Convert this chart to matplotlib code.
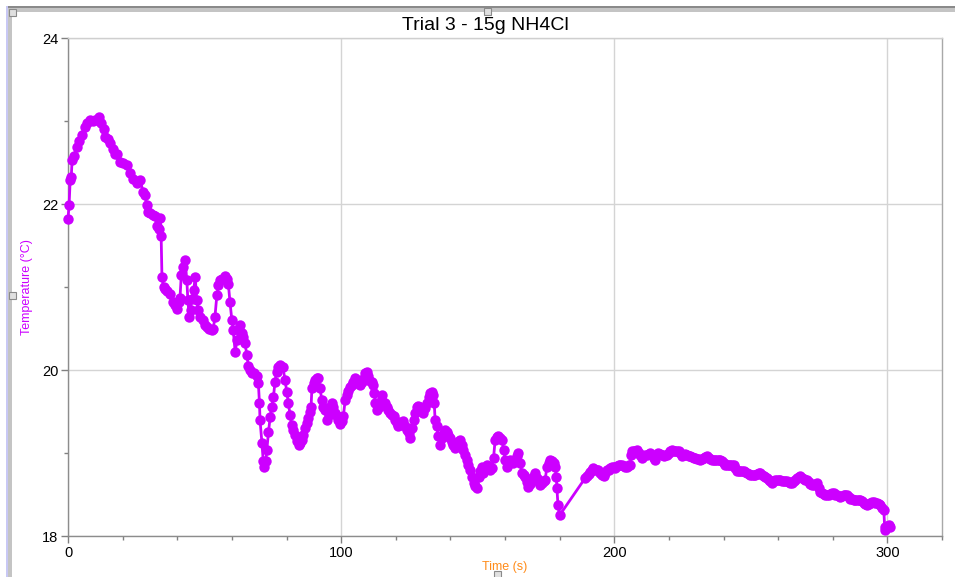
import matplotlib
matplotlib.use('Agg')
import matplotlib.pyplot as plt
from matplotlib.patches import Rectangle
from matplotlib.ticker import MultipleLocator

# Readings: time (s) and temperature (deg C)
time_s = [
    0.0, 0.4, 0.8, 1.2, 1.5, 2.2, 3.2, 4.1, 5.0, 6.2, 7.0, 8.0, 9.0, 10.0, 11.0, 11.5,
    12.2, 13.0, 13.6, 14.5, 15.4, 16.3, 17.2, 18.1, 19.0, 20.2, 21.5, 22.7, 23.9, 25.2,
    26.4, 27.5, 28.2, 28.8, 29.3, 30.0, 31.0, 31.9, 32.5, 33.2, 33.7, 34.1, 34.4, 35.0,
    35.5, 36.4, 37.4, 38.5, 39.2, 39.8, 40.5, 41.0, 41.5, 42.2, 42.9, 43.5, 43.9, 44.4,
    44.9, 45.3, 46.0, 46.6, 47.1, 47.7, 48.4, 49.3, 50.2, 50.8, 51.6, 52.6, 53.2, 53.8,
    54.5, 55.1, 55.7, 56.5, 57.5, 58.3, 58.7, 59.3, 60.0, 60.5, 61.2, 61.9, 62.5, 63.0,
    63.6, 64.2, 64.8, 65.5, 66.0, 66.7, 67.3, 68.2, 69.1, 69.7, 70.1, 70.3, 71.0, 71.5,
    71.9, 72.4, 72.8, 73.4, 74.0, 74.6, 75.2, 75.8, 76.4, 77.0, 77.7, 78.6, 79.5, 80.1,
    80.7, 81.3, 81.9, 82.5, 83.2, 83.8, 84.4, 85.0, 85.6, 86.2, 86.8, 87.4, 88.0, 88.6,
    89.0, 89.3, 89.9, 90.5, 91.1, 91.7, 92.3, 92.9, 93.5, 94.1, 94.8, 95.4, 96.0, 96.6,
    97.2, 97.8, 98.4, 99.0, 99.6, 100.2, 100.8, 101.5, 102.1, 102.7, 103.3, 103.9, 104.5,
    105.1, 105.7, 106.3, 107.0, 107.6, 108.2, 108.8, 109.4, 110.0, 110.6, 111.2, 111.8,
    112.2, 112.5, 113.0, 113.7, 114.3, 114.9, 115.5, 116.1, 116.7, 117.3, 117.9, 118.5,
    119.2, 119.8, 120.4, 121.0, 121.6, 122.2, 122.8, 123.4, 124.0, 124.7, 125.3, 125.9,
    126.5, 127.1, 127.7, 128.3, 128.9, 129.5, 130.1, 130.8, 131.4, 132.0, 132.6, 133.2,
    133.8, 134.1, 134.4, 135.0, 135.6, 136.3, 136.9, 137.5, 138.1, 138.7, 139.3, 139.9,
    140.5, 141.1, 141.8, 142.4, 143.0, 143.6, 144.2, 144.8, 145.4, 146.0, 146.6, 147.3,
    147.9, 148.5, 149.1, 149.7, 150.3, 150.9, 151.5, 152.1, 152.7, 153.4, 154.0, 154.6,
    155.2, 155.8, 156.4, 157.0, 157.6, 158.2, 158.9, 159.5, 160.1, 160.7, 161.3, 161.9,
    162.5, 163.1, 163.7, 164.3, 164.9, 165.6, 166.2, 166.8, 167.4, 168.0, 168.6, 169.2,
    169.9, 170.5, 171.1, 171.7, 172.3, 172.9, 173.5, 174.1, 174.7, 175.3, 176.0, 176.6,
    177.2, 177.8, 178.4, 178.8, 179.0, 179.4, 180.0,
    189.4, 190.0, 190.6, 191.2, 191.8, 192.4, 193.0, 193.6, 194.2, 194.9, 195.5, 196.1,
    196.7, 197.3, 197.9, 198.5, 199.2, 199.8, 200.4, 201.0, 201.6, 202.2, 202.8, 203.4,
    204.0, 204.6, 205.3, 205.9, 206.3, 206.6, 207.1, 207.7, 208.3, 208.9, 209.5, 210.1,
    210.7, 211.3, 212.0, 212.6, 213.2, 213.8, 214.4, 215.0, 215.6, 216.2, 216.8, 217.4,
    218.1, 218.7, 219.3, 219.9, 220.5, 221.1, 221.7, 222.3, 223.0, 223.6, 224.2, 224.8,
    225.4, 226.0, 226.6, 227.2, 227.8, 228.4, 229.1, 229.7, 230.3, 230.9, 231.5, 232.1,
    232.7, 233.3, 233.9, 234.6, 235.2, 235.8, 236.4, 237.0, 237.6, 238.2, 238.8, 239.5,
    240.1, 240.7, 241.3, 241.9, 242.5, 243.1, 243.7, 244.3, 244.9, 245.6, 246.2, 246.8,
    247.4, 248.0, 248.6, 249.2, 249.8, 250.4, 251.0, 251.7, 252.3, 252.9, 253.5, 254.1,
    254.7, 255.3, 255.9, 256.5, 257.2, 257.8, 258.4, 259.0, 259.6, 260.2, 260.8, 261.4,
    262.0, 262.7, 263.3, 263.9, 264.5, 265.1, 265.7, 266.3, 266.9, 267.5, 268.1, 268.8,
    269.4, 270.0, 270.6, 271.2, 271.8, 272.4, 273.0, 273.6, 274.2, 274.9, 275.5, 276.1,
    276.7, 277.3, 277.9, 278.5, 279.1, 279.7, 280.3, 281.0, 281.6, 282.2, 282.8, 283.4,
    284.0, 284.6, 285.2, 285.8, 286.4, 287.1, 287.7, 288.3, 288.9, 289.5, 290.1, 290.7,
    291.3, 291.9, 292.6, 293.2, 293.8, 294.4, 295.0, 295.6, 296.2, 296.8, 297.4, 298.1,
    298.7, 299.0, 299.3, 299.9, 300.5, 301.1,
]
temp_c = [
    21.82, 21.99, 22.29, 22.33, 22.53, 22.58, 22.69, 22.76, 22.83, 22.93, 22.97, 23.01,
    23.00, 23.01, 23.03, 23.05, 22.98, 22.90, 22.81, 22.78, 22.73, 22.66, 22.60, 22.60,
    22.51, 22.50, 22.47, 22.37, 22.30, 22.25, 22.29, 22.15, 22.11, 21.99, 21.90, 21.89,
    21.87, 21.85, 21.73, 21.70, 21.83, 21.62, 21.12, 21.00,
    20.97, 20.95, 20.92, 20.82, 20.78, 20.74, 20.82, 20.87, 21.15, 21.24, 21.32, 21.08,
    20.84, 20.64, 20.72, 20.86, 20.96, 21.12, 20.84, 20.72, 20.64, 20.60, 20.54, 20.52,
    20.50, 20.48, 20.50, 20.64, 20.90, 21.02, 21.08, 21.10, 21.13, 21.10, 21.04, 20.82,
    20.60, 20.48, 20.22, 20.36, 20.48, 20.54, 20.44, 20.40, 20.32, 20.18, 20.05, 20.00,
    19.96, 19.96, 19.93, 19.84, 19.60, 19.40, 19.12, 18.90, 18.83, 18.90, 19.04, 19.25,
    19.43, 19.55, 19.67, 19.86, 19.98, 20.04, 20.06, 20.04, 19.88, 19.73, 19.60, 19.46,
    19.34, 19.28, 19.22, 19.14, 19.10, 19.12, 19.16, 19.22, 19.30, 19.36, 19.42, 19.50,
    19.56, 19.78, 19.84, 19.88, 19.90, 19.90, 19.78, 19.64, 19.56, 19.52, 19.40, 19.46,
    19.55, 19.60, 19.55, 19.48, 19.44, 19.40, 19.35, 19.38, 19.44, 19.64, 19.70, 19.75,
    19.80, 19.82, 19.85, 19.90, 19.88, 19.84, 19.82, 19.85, 19.90, 19.96, 19.98, 19.93,
    19.87, 19.85, 19.82, 19.72, 19.60, 19.52, 19.55, 19.62, 19.70, 19.62, 19.60, 19.55,
    19.52, 19.48, 19.46, 19.44, 19.40, 19.36, 19.32, 19.34, 19.37, 19.38, 19.33, 19.28,
    19.24, 19.18, 19.30, 19.40, 19.48, 19.56, 19.57, 19.56, 19.52, 19.48, 19.54, 19.60,
    19.68, 19.72, 19.73, 19.70, 19.60, 19.40, 19.32, 19.20, 19.10, 19.18, 19.24, 19.28,
    19.25, 19.22, 19.18, 19.13, 19.10, 19.06, 19.10, 19.14, 19.16, 19.10, 19.04, 18.98,
    18.92, 18.86, 18.80, 18.71, 18.64, 18.60, 18.58, 18.71, 18.78, 18.83, 18.76, 18.80,
    18.86, 18.83, 18.80, 18.82, 18.94, 19.16, 19.19, 19.20, 19.18, 19.16, 19.04, 18.92,
    18.83, 18.88, 18.92, 18.90, 18.88, 18.92, 18.96, 19.00, 18.88, 18.76, 18.74, 18.71,
    18.65, 18.59, 18.63, 18.67, 18.72, 18.76, 18.70, 18.65, 18.61, 18.64, 18.66, 18.67,
    18.83, 18.88, 18.92, 18.90, 18.88, 18.83, 18.71, 18.58, 18.37, 18.25,
    18.70, 18.72, 18.75, 18.77, 18.80, 18.82, 18.80, 18.80, 18.80, 18.76, 18.74, 18.72,
    18.76, 18.79, 18.80, 18.82, 18.83, 18.83, 18.82, 18.84, 18.86, 18.86, 18.85, 18.84,
    18.83, 18.83, 18.86, 18.86, 18.98, 19.02, 19.03, 19.03, 19.04, 19.00, 18.97, 18.94,
    18.96, 18.98, 18.97, 18.99, 19.00, 18.97, 18.94, 18.92, 18.97, 19.00, 18.99, 18.98,
    18.96, 18.97, 18.97, 19.00, 19.02, 19.04, 19.03, 19.02, 19.02, 19.02, 19.00, 18.96,
    18.98, 18.99, 18.97, 18.96, 18.96, 18.95, 18.94, 18.94, 18.93, 18.93, 18.92, 18.93,
    18.94, 18.95, 18.96, 18.94, 18.93, 18.92, 18.92, 18.92, 18.92, 18.92, 18.92, 18.90,
    18.88, 18.86, 18.86, 18.86, 18.86, 18.86, 18.86, 18.82, 18.78, 18.78, 18.78, 18.78,
    18.78, 18.77, 18.76, 18.75, 18.74, 18.74, 18.73, 18.74, 18.75, 18.76, 18.76, 18.74,
    18.72, 18.71, 18.70, 18.68, 18.66, 18.64, 18.66, 18.67, 18.67, 18.67, 18.67, 18.66,
    18.66, 18.66, 18.66, 18.65, 18.64, 18.64, 18.66, 18.68, 18.70, 18.71, 18.72, 18.70,
    18.69, 18.68, 18.67, 18.65, 18.63, 18.62, 18.61, 18.63, 18.64, 18.58, 18.53, 18.52,
    18.51, 18.50, 18.49, 18.50, 18.51, 18.52, 18.52, 18.50, 18.49, 18.48, 18.47, 18.48,
    18.49, 18.49, 18.49, 18.47, 18.45, 18.44, 18.43, 18.43, 18.43, 18.43, 18.43, 18.42,
    18.40, 18.38, 18.37, 18.38, 18.40, 18.41, 18.41, 18.40, 18.40, 18.39, 18.37, 18.34,
    18.31, 18.11, 18.07, 18.12, 18.13, 18.11,
]

title = 'Trial 3 - 15g NH4Cl'
x_label = 'Time (s)'
y_label = 'Temperature (°C)'

plt.rcParams['font.family'] = ['Liberation Sans', 'DejaVu Sans']

W, H = 955, 577
fig = plt.figure(figsize=(W / 100, H / 100), dpi=100)
fig.patch.set_facecolor('white')

# axes box in pixels: left 68, right 942, top 38, bottom 536
ax = fig.add_axes([68 / W, 1 - 536 / H, (942 - 68) / W, (536 - 38) / H])

ax.plot(time_s, temp_c, color='#CC00FF', lw=2, marker='o', ms=7.5,
        markeredgewidth=0, zorder=3, clip_on=False)

ax.set_xlim(0, 320)
ax.set_ylim(18, 24)
ax.xaxis.set_major_locator(MultipleLocator(100))
ax.xaxis.set_minor_locator(MultipleLocator(20))
ax.yaxis.set_major_locator(MultipleLocator(2))
ax.yaxis.set_minor_locator(MultipleLocator(1))

ax.grid(True, which='major', color='#d4d4d4', lw=1)
ax.set_axisbelow(True)

ax.tick_params(which='both', direction='out', colors='#808080',
               labelcolor='black', labelsize=10.5, width=1)
ax.tick_params(which='major', length=5, pad=2)
ax.tick_params(which='minor', length=3)

ax.spines['left'].set_color('#8c8c8c')
ax.spines['bottom'].set_color('#8c8c8c')
ax.spines['top'].set_color('#cfcfcf')
ax.spines['right'].set_color('#a8a8a8')
for s in ax.spines.values():
    s.set_linewidth(1)

# labels and title placed like the logger software does it
fig.text(485 / W, 1 - 25 / H, title, ha='center', va='center', fontsize=14)
fig.text(505 / W, 1 - 567 / H, x_label, ha='center', va='center',
         fontsize=9, color='#FF8C1A')
fig.text(27 / W, 1 - 287 / H, y_label, ha='center', va='center',
         fontsize=9, color='#CC00FF', rotation=90)


def px_rect(x, y, w, h, **kw):
    # rectangle given in pixel coords measured from the top left corner
    r = Rectangle((x / W, 1 - (y + h) / H), w / W, h / H,
                  transform=fig.transFigure, **kw)
    fig.add_artist(r)


# window frame around the graph
px_rect(7, 6, W - 7, 2, facecolor='#8a8a8a', lw=0)
px_rect(7, 8, W - 7, 4, facecolor='#c4c4c4', lw=0)
px_rect(6, 6, 2, H - 6, facecolor='#c8c8f4', lw=0)
px_rect(8, 8, 4, H - 8, facecolor='#c4c4c4', lw=0)

# selection handles
for hx, hy in [(9, 9), (484, 8), (9, 292), (494, 571)]:
    px_rect(hx, hy, 7, 7, facecolor='#e0e0e0', edgecolor='#8a8a8a', lw=0.8)

fig.savefig('out.png', dpi=100)
